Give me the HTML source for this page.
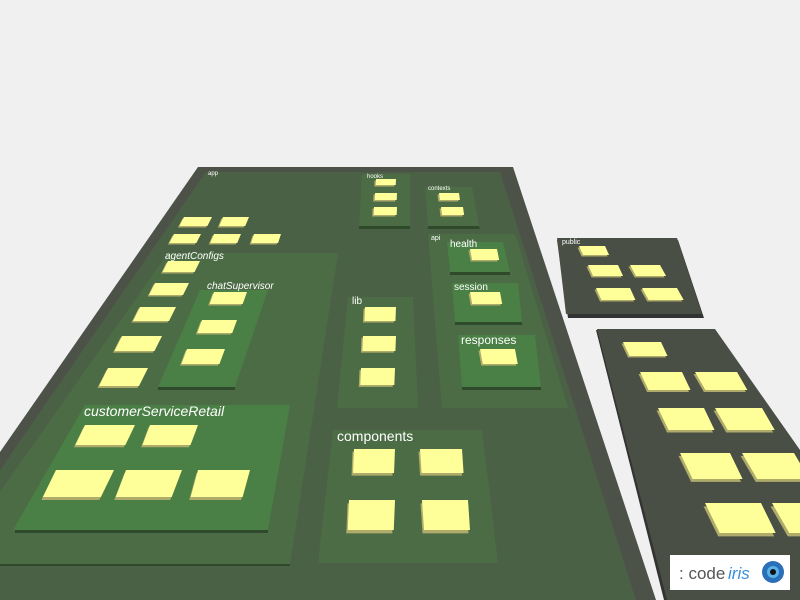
<!DOCTYPE html>
<html><head><meta charset="utf-8"><style>
html,body{margin:0;padding:0;background:#f0f0f0;width:800px;height:600px;overflow:hidden}
svg{display:block}
text{font-family:"Liberation Sans",sans-serif;fill:#fff}
</style></head><body>
<svg id="s" width="800" height="600" viewBox="0 0 800 600" xmlns="http://www.w3.org/2000/svg">
<rect width="800" height="600" fill="#f0f0f0"/>
<!-- main platform -->
<polygon points="198,167 513,167 656,600 0,600 0,452" fill="#4d5249"/>
<polygon points="206,172 500,172 636,600 0,600 0,470" fill="#4b6145"/>
<!-- public platform -->
<polygon points="557,240 678,240 704,318 568,318" fill="#333"/>
<polygon points="557,238 677,238 702,314 566,314" fill="#4a4f45"/>
<!-- right platform -->
<polygon points="596,330 715,330 800,452 800,600 664,600" fill="#333"/>
<polygon points="597,329 715,329 800,450 800,600 667,600" fill="#4a4f45"/>
<!-- boxes -->
<polygon points="0,488 290,488 290,567 0,567" fill="#2f4a2a" opacity="0"/>
<polygon points="0,564 290,564 290,566 0,566" fill="#2f4a2a"/>
<g fill="#4c6c45">
<polygon points="168,253 338,253 290,564 0,564 0,492"/>
<polygon points="348,297 413,297 418,408 337,408"/>
<polygon points="333,430 482,430 498,563 318,563"/>
<polygon points="428,234 515,234 568,408 442,408"/>
<polygon points="362,174 410,174 410,226 359,226"/>
<polygon points="425,187 472,187 479,226 428,226"/>
</g>
<g fill="#2f4a2a">
<polygon points="359,226 410,226 410,229 359,229"/>
<polygon points="428,226 479,226 480,229 428,229"/>
<polygon points="450,272 510,272 510,275 450,275"/>
<polygon points="455,322 522,322 522,325 455,325"/>
<polygon points="462,387 541,387 541,390 462,390"/>
<polygon points="158,387 235,387 235,390 158,390"/>
<polygon points="15,530 268,530 268,533 15,533"/>
</g>
<g fill="#4a7f45">
<polygon points="200,290 268,290 235,387 158,387"/>
<polygon points="85,405 290,405 268,530 13,530"/>
<polygon points="447,242 503,242 510,272 450,272"/>
<polygon points="452,283 518,283 522,322 455,322"/>
<polygon points="458,335 535,335 541,387 462,387"/>
</g>
<g id="tiles"></g>
<!-- labels -->
<text x="208" y="175" font-size="6">app</text>
<text x="367" y="178" font-size="6">hooks</text>
<text x="428" y="190" font-size="6">contexts</text>
<text x="431" y="240" font-size="7">api</text>
<text x="450" y="247" font-size="10">health</text>
<text x="454" y="290" font-size="10">session</text>
<text x="461" y="344" font-size="12">responses</text>
<text x="352" y="304" font-size="10">lib</text>
<text x="165" y="259" font-size="10" font-style="italic">agentConfigs</text>
<text x="207" y="289" font-size="10" font-style="italic">chatSupervisor</text>
<text x="84" y="416" font-size="14" font-style="italic">customerServiceRetail</text>
<text x="337" y="441" font-size="14">components</text>
<text x="562" y="244" font-size="7">public</text>
<!-- logo -->
<rect x="670" y="555" width="120" height="35" fill="#fff"/>
<text x="679" y="579" font-size="17" style="fill:#555">: code</text>
<text x="728" y="579" font-size="17" font-style="italic" style="fill:#3a8fd8">iris</text>
<circle cx="773" cy="572" r="11" fill="#2a6fb8"/>
<circle cx="773" cy="572" r="6" fill="#5ab0e8"/>
<circle cx="773" cy="572" r="3" fill="#111"/>
</svg>
<script>
var T=[[184,217,28,9],[223,217,26,9],[174,234,27,9],[214,234,27,9],[254,234,27,9],
[168,261,32,11],[155,283,34,12],[140,307,36,14],[122,336,40,15],[108,368,40,18],
[214,292,33,12],[202,320,35,13],[187,349,38,15],
[85,425,50,20],[150,425,48,20],[56,470,58,27],[126,470,56,27],[198,470,52,27],
[365,307,31,14],[363,336,33,15],[361,368,34,17],
[354,449,41,24],[420,449,42,24],[349,500,46,30],[422,500,46,30],
[376,179,20,6],[375,193,22,7],[374,207,23,8],[439,193,20,7],[441,207,22,8],
[470,249,27,11],[470,292,30,12],[480,349,35,15],
[579,246,26,9],[588,265,30,11],[630,265,30,11],[596,288,34,12],[642,288,35,12],
[623,342,38,14],[640,372,42,18],[695,372,42,18],[658,408,46,22],[715,408,47,22],
[680,453,50,26],[742,453,52,26],[705,503,56,30],[772,503,40,30]];
var g=document.getElementById('tiles'),h='';
T.forEach(function(t){var x=t[0],y=t[1],w=t[2],hh=t[3];
var s=(x+w/2-400)/(y+177)*hh;var d=Math.max(1.5,hh/9);
function p(ox,oy){return [x+ox,y+oy,x+w+ox,y+oy,x+w+s+ox,y+hh+oy,x+s+ox,y+hh+oy].join(',');}
h+='<polygon points="'+p(-1.5,d)+'" fill="#aeab6b"/><polygon points="'+p(0,0)+'" fill="#ffff99"/>';});
g.innerHTML=h;
</script>
</body></html>
